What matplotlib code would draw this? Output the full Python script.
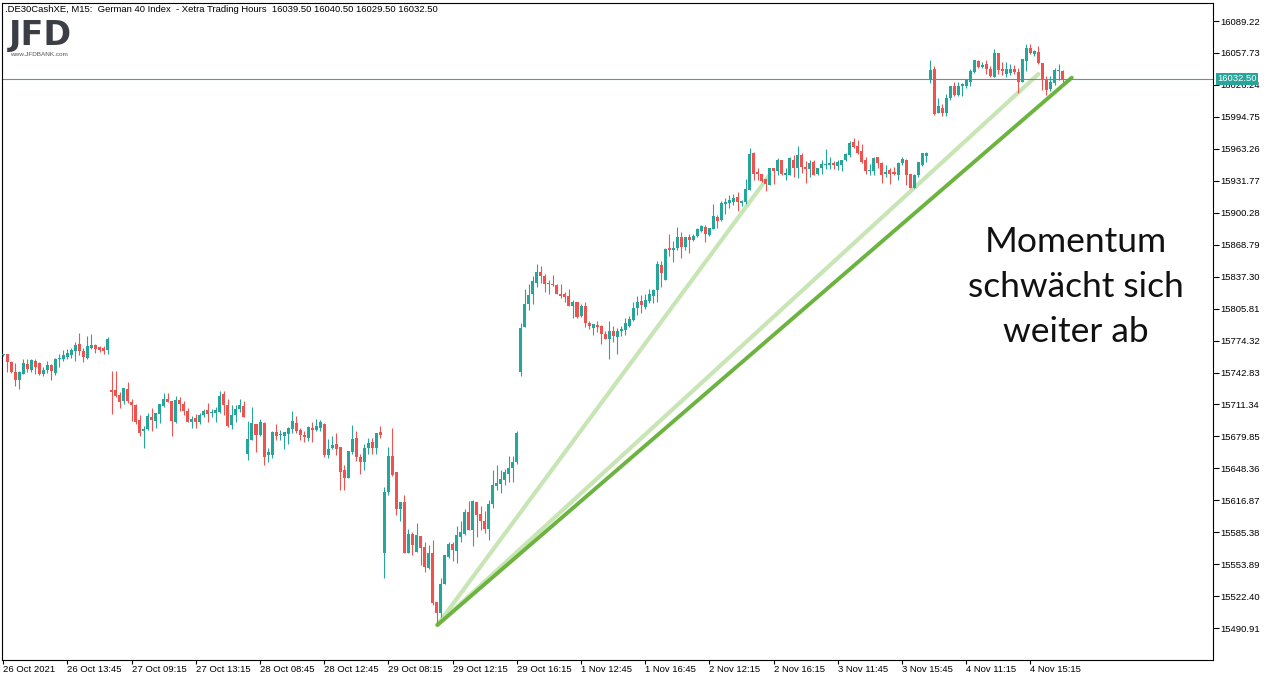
import matplotlib
matplotlib.use("Agg")
import matplotlib.pyplot as plt
import matplotlib.transforms as mtransforms
import numpy as np

plt.rcParams['font.family'] = ['Liberation Sans', 'DejaVu Sans']

# --- candle data, 15 min bars ---
opens = [
    15760, 15761, 15753, 15743, 15735, 15741, 15751, 15745, 15754, 15752,
    15741, 15745, 15750, 15742, 15756, 15756, 15758, 15760, 15764, 15771,
    15764, 15757, 15767, 15770, 15768, 15767, 15765, 15726, 15726, 15721,
    15715, 15727, 15714, 15711, 15696, 15685, 15687, 15699, 15695, 15702,
    15710, 15717, 15715, 15694, 15716, 15712, 15705, 15694, 15698, 15694,
    15701, 15706, 15703, 15703, 15704, 15722, 15711, 15691, 15701, 15707,
    15710, 15663, 15676, 15692, 15681, 15693, 15662, 15662, 15684, 15681,
    15680, 15682, 15687, 15693, 15686, 15681, 15678, 15688, 15686, 15688,
    15692, 15662, 15668, 15672, 15669, 15647, 15639, 15664, 15678, 15660,
    15655, 15668, 15674, 15668, 15684, 15565, 15625, 15661, 15645, 15608,
    15615, 15565, 15584, 15566, 15582, 15571, 15550, 15565, 15517, 15506,
    15534, 15561, 15574, 15567, 15581, 15584, 15605, 15588, 15615, 15603,
    15596, 15589, 15613, 15631, 15633, 15637, 15643, 15649, 15655, 15743,
    15788, 15810, 15820, 15831, 15842, 15838, 15830, 15830, 15829, 15820,
    15820, 15818, 15808, 15812, 15799, 15808, 15792, 15787, 15790, 15789,
    15781, 15776, 15784, 15778, 15784, 15785, 15789, 15795, 15806, 15813,
    15807, 15813, 15818, 15824, 15849, 15834, 15866, 15864, 15866, 15876,
    15867, 15876, 15873, 15877, 15882, 15886, 15878, 15884, 15896, 15893,
    15909, 15910, 15911, 15916, 15910, 15911, 15923, 15959, 15940, 15938,
    15934, 15928, 15944, 15941, 15952, 15937, 15937, 15952, 15944, 15957,
    15945, 15943, 15950, 15938, 15944, 15947, 15947, 15949, 15946, 15947,
    15952, 15957, 15970, 15966, 15961, 15952, 15941, 15941, 15955, 15949,
    15938, 15942, 15940, 15937, 15949, 15952, 15938, 15925, 15937, 15947,
    15956, 16032, 16042, 15999, 16004, 15999, 16013, 16025, 16016, 16025,
    16025, 16029, 16039, 16050, 16044, 16047, 16042, 16034, 16058, 16042,
    16037, 16038, 16042, 16039, 16029, 16050, 16063, 16057, 16059, 16048,
    16032, 16022, 16028, 16040, 16039.5,
]
highs = [
    15761, 15761, 15754, 15752, 15744, 15756, 15756, 15756, 15756, 15753,
    15748, 15754, 15751, 15757, 15761, 15765, 15766, 15767, 15773, 15782,
    15767, 15779, 15781, 15771, 15769, 15769, 15778, 15744, 15744, 15724,
    15728, 15733, 15717, 15712, 15701, 15690, 15703, 15708, 15703, 15712,
    15723, 15723, 15715, 15720, 15719, 15715, 15708, 15700, 15702, 15703,
    15707, 15713, 15707, 15709, 15725, 15725, 15717, 15711, 15711, 15717,
    15715, 15695, 15709, 15692, 15697, 15694, 15668, 15685, 15692, 15686,
    15684, 15689, 15705, 15700, 15688, 15685, 15690, 15694, 15697, 15696,
    15693, 15677, 15680, 15683, 15669, 15652, 15665, 15691, 15685, 15663,
    15672, 15678, 15678, 15683, 15690, 15630, 15669, 15688, 15645, 15615,
    15622, 15589, 15586, 15595, 15582, 15576, 15573, 15578, 15517, 15540,
    15563, 15576, 15576, 15592, 15596, 15608, 15616, 15617, 15615, 15611,
    15606, 15617, 15647, 15652, 15647, 15648, 15661, 15661, 15685, 15792,
    15825, 15830, 15838, 15850, 15848, 15840, 15834, 15839, 15830, 15830,
    15822, 15825, 15814, 15812, 15810, 15812, 15794, 15791, 15794, 15790,
    15784, 15794, 15789, 15787, 15789, 15797, 15799, 15812, 15818, 15819,
    15820, 15825, 15825, 15853, 15853, 15866, 15879, 15872, 15886, 15881,
    15876, 15879, 15879, 15885, 15888, 15888, 15885, 15909, 15898, 15912,
    15915, 15918, 15919, 15921, 15913, 15934, 15964, 15960, 15944, 15938,
    15934, 15944, 15944, 15954, 15952, 15944, 15955, 15957, 15966, 15959,
    15951, 15952, 15952, 15944, 15952, 15963, 15955, 15951, 15952, 15952,
    15959, 15971, 15974, 15972, 15968, 15955, 15948, 15955, 15955, 15950,
    15947, 15944, 15945, 15950, 15955, 15953, 15938, 15938, 15950, 15959,
    15960, 16051, 16045, 16013, 16007, 16017, 16025, 16029, 16029, 16028,
    16031, 16042, 16051, 16051, 16049, 16051, 16045, 16062, 16058, 16049,
    16049, 16047, 16046, 16043, 16052, 16067, 16067, 16061, 16065, 16048,
    16035, 16035, 16043, 16047, 16040.5,
]
lows = [
    15759, 15743, 15742, 15730, 15727, 15741, 15743, 15743, 15741, 15740,
    15739, 15742, 15735, 15740, 15748, 15754, 15756, 15757, 15754, 15760,
    15753, 15756, 15766, 15762, 15763, 15761, 15761, 15702, 15719, 15708,
    15712, 15713, 15695, 15692, 15680, 15668, 15686, 15685, 15688, 15693,
    15709, 15714, 15680, 15693, 15705, 15701, 15694, 15688, 15688, 15692,
    15699, 15694, 15699, 15694, 15703, 15701, 15689, 15687, 15694, 15704,
    15699, 15657, 15676, 15664, 15680, 15652, 15655, 15659, 15676, 15676,
    15667, 15672, 15683, 15683, 15676, 15674, 15675, 15674, 15685, 15685,
    15660, 15659, 15667, 15662, 15627, 15627, 15639, 15663, 15656, 15643,
    15647, 15663, 15663, 15663, 15678, 15540, 15622, 15641, 15602, 15596,
    15565, 15565, 15563, 15566, 15553, 15546, 15549, 15514, 15496, 15502,
    15534, 15560, 15557, 15555, 15576, 15583, 15588, 15572, 15581, 15588,
    15585, 15578, 15609, 15627, 15624, 15632, 15635, 15635, 15653, 15739,
    15788, 15804, 15810, 15827, 15831, 15822, 15820, 15828, 15820, 15816,
    15812, 15808, 15797, 15797, 15798, 15788, 15786, 15780, 15783, 15771,
    15776, 15756, 15773, 15761, 15779, 15780, 15788, 15794, 15800, 15801,
    15805, 15811, 15811, 15812, 15827, 15834, 15858, 15852, 15864, 15856,
    15864, 15861, 15872, 15876, 15881, 15871, 15877, 15884, 15885, 15892,
    15899, 15905, 15908, 15902, 15907, 15909, 15923, 15933, 15933, 15931,
    15922, 15928, 15929, 15937, 15937, 15933, 15937, 15936, 15935, 15939,
    15930, 15936, 15937, 15937, 15938, 15943, 15943, 15943, 15942, 15941,
    15951, 15955, 15964, 15958, 15949, 15938, 15937, 15937, 15944, 15930,
    15936, 15929, 15937, 15933, 15947, 15928, 15925, 15925, 15936, 15946,
    15950, 16028, 15997, 15999, 15996, 15996, 16011, 16015, 16015, 16015,
    16023, 16025, 16038, 16043, 16043, 16037, 16034, 16034, 16037, 16036,
    16034, 16036, 16037, 16018, 16029, 16040, 16057, 16055, 16047, 16021,
    16016, 16020, 16026, 16031, 16029.5,
]
closes = [
    15760, 15753, 15743, 15735, 15743, 15752, 15746, 15755, 15748, 15741,
    15745, 15750, 15744, 15756, 15756, 15760, 15762, 15765, 15770, 15764,
    15758, 15769, 15770, 15766, 15765, 15764, 15776, 15724, 15720, 15714,
    15728, 15715, 15711, 15694, 15683, 15687, 15700, 15696, 15703, 15712,
    15717, 15714, 15695, 15716, 15712, 15705, 15694, 15697, 15694, 15701,
    15705, 15702, 15704, 15706, 15720, 15711, 15690, 15701, 15707, 15711,
    15699, 15677, 15693, 15681, 15694, 15660, 15664, 15684, 15680, 15682,
    15684, 15688, 15695, 15685, 15681, 15679, 15689, 15686, 15690, 15694,
    15662, 15667, 15671, 15667, 15645, 15639, 15665, 15677, 15660, 15655,
    15668, 15673, 15668, 15683, 15681, 15625, 15661, 15642, 15608, 15615,
    15565, 15584, 15573, 15583, 15570, 15551, 15565, 15516, 15506, 15534,
    15563, 15574, 15568, 15583, 15586, 15605, 15588, 15616, 15602, 15596,
    15589, 15613, 15632, 15634, 15638, 15645, 15649, 15655, 15683, 15787,
    15810, 15819, 15833, 15842, 15838, 15830, 15831, 15829, 15820, 15818,
    15817, 15808, 15812, 15798, 15808, 15792, 15789, 15791, 15788, 15781,
    15776, 15784, 15779, 15784, 15786, 15792, 15796, 15806, 15812, 15809,
    15814, 15820, 15824, 15850, 15841, 15865, 15864, 15866, 15876, 15867,
    15876, 15873, 15877, 15884, 15887, 15879, 15885, 15897, 15892, 15910,
    15911, 15913, 15915, 15911, 15912, 15924, 15958, 15938, 15938, 15932,
    15929, 15944, 15941, 15952, 15938, 15939, 15954, 15944, 15957, 15945,
    15943, 15949, 15937, 15944, 15948, 15948, 15949, 15947, 15950, 15952,
    15958, 15969, 15965, 15959, 15950, 15941, 15942, 15954, 15949, 15937,
    15940, 15938, 15938, 15949, 15953, 15937, 15925, 15937, 15950, 15959,
    15959, 16041, 15998, 16005, 15999, 16013, 16025, 16016, 16025, 16027,
    16031, 16040, 16051, 16044, 16046, 16042, 16035, 16058, 16041, 16040,
    16042, 16042, 16039, 16029, 16052, 16063, 16058, 16060, 16048, 16031,
    16021, 16029, 16041, 16041, 16032.5,
]

# price scale labels as shown on the right axis
price_labels = ['16089.22', '16057.73', '16026.24', '15994.75', '15963.26',
                '15931.77', '15900.28', '15868.79', '15837.30', '15805.81',
                '15774.32', '15742.83', '15711.34', '15679.85', '15648.36',
                '15616.87', '15585.38', '15553.89', '15522.40', '15490.91']

# time labels, one every 16 bars
time_labels = ['26 Oct 2021', '26 Oct 13:45', '27 Oct 09:15', '27 Oct 13:15',
               '28 Oct 08:45', '28 Oct 12:45', '29 Oct 08:15', '29 Oct 12:15',
               '29 Oct 16:15', '1 Nov 12:45', '1 Nov 16:45', '2 Nov 12:15',
               '2 Nov 16:15', '3 Nov 11:45', '3 Nov 15:45', '4 Nov 11:15',
               '4 Nov 15:15']
bars_per_label = 16

last_price = 16032.50

# trend lines: common start (bar, price) and end points
trend_start = (108.2, 15494.0)
trend_end_bar = [191.0, 258.0, 266.3]
trend_end_price = [15937.5, 16037.0, 16033.4]

W, H = 1272, 681
fig = plt.figure(figsize=(W / 100, H / 100), dpi=100)
ax = fig.add_axes([2 / W, 21 / H, 1211 / W, 657 / H])

o = np.array(opens, dtype=float)
h = np.array(highs, dtype=float)
l = np.array(lows, dtype=float)
c = np.array(closes, dtype=float)
x = np.arange(len(c))

bull, bear = '#26a69a', '#ef5350'
cols = np.where(c >= o, bull, bear)

# trend lines (light ones first, dark on top)
tcols = ['#c8e6b5', '#c8e6b5', '#6cb33f']
twidth = [3.0, 3.0, 2.8]
for eb, ep, tc, tw in zip(trend_end_bar, trend_end_price, tcols, twidth):
    ax.plot([trend_start[0], eb], [trend_start[1], ep], color=tc, lw=tw,
            solid_capstyle='round', zorder=1)

ax.vlines(x, l, h, colors=cols, lw=0.8, zorder=3)
body = np.maximum(np.abs(c - o), 1.0)
ax.bar(x, body, bottom=np.minimum(o, c), width=0.75, color=cols, lw=0, zorder=3)

ax.axhline(last_price, color='#4f9d96', lw=0.8, zorder=2)

ax.set_xlim(-0.3, 301.5)
ax.set_ylim(15459.5, 16107.0)

ax.set_yticks([float(s) for s in price_labels])
ax.set_yticklabels(price_labels)
ax.yaxis.tick_right()
ax.tick_params(axis='y', direction='out', length=4, width=0.8, pad=1,
               labelsize=6.8, colors='black')

ax.set_xticks(np.arange(len(time_labels)) * bars_per_label)
ax.set_xticklabels(time_labels)
for t in ax.get_xticklabels():
    t.set_horizontalalignment('left')
ax.tick_params(axis='x', direction='out', length=3, width=0.8, pad=0.5,
               labelsize=6.8)

for sp in ax.spines.values():
    sp.set_linewidth(0.8)
    sp.set_color('black')

# last price tag on the right scale
trans = mtransforms.blended_transform_factory(ax.transAxes, ax.transData)
ax.text(1.0 + 4 / 1211, last_price, '16032.50', transform=trans, ha='left',
        va='center', fontsize=6.8, color='white', clip_on=False,
        bbox=dict(boxstyle='square,pad=0.15', fc='#26a69a', ec='none'))

# header
fig.text(5 / W, 1 - 10 / H,
         '.DE30CashXE, M15:  German 40 Index  - Xetra Trading Hours  '
         '16039.50 16040.50 16029.50 16032.50',
         fontsize=6.8, ha='left', va='center')

# logo
fig.text(9 / W, 1 - 35 / H, 'JFD', fontsize=24, fontweight='bold',
         family='DejaVu Sans', color='#3b3f45', ha='left', va='center')
fig.text(10 / W, 1 - 54 / H, 'www.JFDBANK.com', fontsize=4.6, color='#555555',
         ha='left', va='center')

# annotation
ax.text(1076 / W, 1 - 287 / H, 'Momentum\nschwächt sich\nweiter ab',
        transform=fig.transFigure, ha='center', va='center', fontsize=25.5,
        family='Lato', linespacing=1.5, color='#111111')

fig.savefig('out.png', dpi=100)
